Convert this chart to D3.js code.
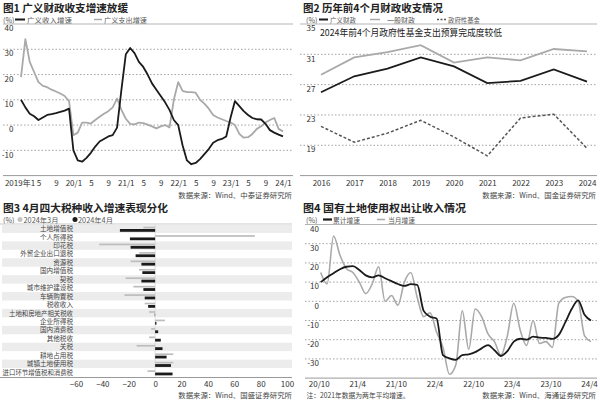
<!DOCTYPE html>
<html><head><meta charset="utf-8">
<script src="https://cdn.jsdelivr.net/npm/d3@7/dist/d3.min.js"></script>
<style>
html,body{margin:0;padding:0;background:#fff;}
svg{display:block;font-family:"Noto Sans CJK SC","Noto Sans",sans-serif;}
</style></head>
<body>
<svg id="c" width="600" height="400"></svg>
<script>
// ---------- DATA ----------
// Panel 1: monthly, 2019/1 .. 2024/1
const p1TickIdx = [0,4,8,12,16,20,24,28,32,36,40,44,48,52,56,60];
const p1TickLabels = ["2019年1","5","9","20/1","5","9","21/1","5","9","22/1","5","9","23/1","5","9","24/1"];
const p1Income = [10,7,4.5,3.5,2,3,4,4.3,4.7,5.2,5.7,6.5,-10,-14,-14.5,-13,-11,-8.5,-6.5,-5.5,-4.5,-4,-1,14,28,30.5,28.5,25,23,20,16.5,14,11.5,9,6,2,0,-8,-14,-15.5,-15,-13.5,-11.5,-9.5,-7,-6,-5.5,-4.5,3,9.5,7.5,5.5,4,2.8,2.3,2.2,0.5,-2,-3,-3.8,-4.5];
const p1Expend = [19,34,25,21,17,15.5,15,14,13.3,12.5,11.5,9.5,-4,-3,1,1,0.6,2,3.3,4.5,5.5,7,10.5,6,2.5,0.5,0.3,1,0.8,0.2,-0.5,-1.3,-0.5,0,-1,10,17,13.5,13,13,12.8,10,8.5,6.5,4,3,2.3,1.6,1,0,-3.5,-5,-4.8,-3.5,-1.5,-0.5,1,2,2.8,-1.5,-2.5];
const p1YTicks = [40,30,20,10,0,-10];

// Panel 2: yearly
const p2Years = ["2016","2017","2018","2019","2020","2021","2022","2023","2024"];
const p2Broad = [26.0,28.1,29.1,30.6,29.4,27.2,27.5,29.0,27.4];
const p2General = [28.3,30.6,31.3,32.2,29.9,30.6,30.2,31.7,31.4];
const p2Fund = [21.5,19.4,20.6,22.3,20.1,17.6,22.6,23.1,18.6];
const p2YTicks = [35,31,27,23,19];

// Panel 3: tax categories
const p3Cats = ["土地增值税","个人所得税","印花税","外贸企业出口退税","资源税","国内增值税","契税","城市维护建设税","车辆购置税","税收收入","土地和房地产相关税收","企业所得税","国内消费税","其他税收","关税","耕地占用税","城镇土地使用税","进口环节增值税和消费税"];
const p3Mar = [-8.9,75.6,-42.4,-12,-18.6,-12.2,-22.4,-16.5,-23.2,-7.9,-4.6,7.4,-3,-4.6,-14,13.7,13.7,-5.8];
const p3Apr = [-26.7,-19.1,-18.6,-14.8,-10.4,-9.7,-10.4,-8.9,-7.9,-5.3,-0.3,1,2.3,4.3,5.6,8.7,12,13.2];
const p3XTicks = [-60,-40,-20,0,20,40,60,80,100];

// Panel 4: monthly, 20/10 .. 24/4
const p4TickIdx = [0,6,12,18,24,30,36,42];
const p4TickLabels = ["20/10","21/4","21/10","22/4","22/10","23/4","23/10","24/4"];
const p4Cum = [10,12.5,14.6,16.7,18,18.3,16.3,13.5,12.5,13.5,12,10.5,9,8,8.9,8.5,-5,-8,-9,-28,-29.7,-30.5,-28,-27.6,-26.5,-24.5,-22.8,-25.5,-28.5,-26,-21,-19.5,-20,-18.4,-18.9,-19.1,-19.6,-17.5,-11,-4,0.5,-7,-10];
const p4Month = [15,9,34,24,17,15,10,4,9,18,0,3,-2,10,15,2,-8,-6,-16,-24,-38,-33,-5,-25,-4,-8,-17,-21,-28,-18,-1,-15,-23,-10,-22,-21,-24,-1,2,2.5,0,-18,-21];
const p4YTicks = [40,30,20,10,0,-10,-20,-30];

// ---------- DRAW ----------
const svg = d3.select("#c");
const BLACK = "#1b1b1b", GRAY = "#a9a9a9", GRID = "#8a8a8a", TXT = "#333";
const TICK = 8, LEG = 7.2, SRC = 7.4, TITLE = 10.5;

function text(g, x, y, s, opt = {}) {
  const t = g.append("text").attr("x", x).attr("y", y).text(s)
    .attr("font-size", opt.size || TICK)
    .attr("fill", opt.fill || TXT)
    .attr("font-weight", opt.weight || 400)
    .attr("text-anchor", opt.anchor || "start");
  if (opt.len) t.attr("textLength", opt.len).attr("lengthAdjust", "spacingAndGlyphs");
  return t;
}
function hline(g, x1, x2, y, dotted, color) {
  g.append("line").attr("x1", x1).attr("x2", x2).attr("y1", y).attr("y2", y)
    .attr("stroke", color || (dotted ? GRID : "#b5b5b5"))
    .attr("stroke-width", dotted ? 0.8 : 1)
    .attr("stroke-dasharray", dotted ? "1.5,2" : null);
}
function legendLine(g, x, y, w, color, width, dash) {
  g.append("line").attr("x1", x).attr("x2", x + w).attr("y1", y).attr("y2", y)
    .attr("stroke", color).attr("stroke-width", width).attr("stroke-dasharray", dash || null);
}
function styleAxis(axg) {
  axg.select(".domain").remove();
  axg.selectAll("text").attr("font-size", TICK).attr("fill", TXT)
    .attr("font-family", "Noto Sans CJK SC").attr("dy", "0.9em");
  return axg;
}

// ===== Panel 1 =====
{
  const g = svg.append("g");
  const x = d3.scaleLinear().domain([0, 60]).range([21, 283]);
  const y = d3.scaleLinear().domain([-20, 40]).range([175.6, 24]);
  text(g, 3, 12, "图1 广义财政收支增速放缓", {size: TITLE, weight: 700, fill: "#222", len: 125});
  text(g, 3, 22.5, "(%)", {size: LEG, fill: "#555"});
  legendLine(g, 15, 19.5, 10, BLACK, 2);
  text(g, 27, 22.5, "广义收入增速", {size: LEG, fill: "#555", len: 45});
  legendLine(g, 94, 19.5, 8, GRAY, 1.5);
  text(g, 104, 22.5, "广义支出增速", {size: LEG, fill: "#555", len: 43});
  p1YTicks.forEach(v => {
    hline(g, 3, 293, y(v), v !== 40);
    text(g, 13.5, y(v) + 7.2, v, {anchor: "end"});
  });
  hline(g, 3, 293, y(-20), false, "#999");
  const ax = d3.axisBottom(x).tickValues(p1TickIdx).tickSize(0)
    .tickFormat((d, i) => p1TickLabels[i]);
  const axg = styleAxis(g.append("g").attr("transform", `translate(0,${y(-20)})`).call(ax));
  axg.selectAll("text").filter((d, i) => i === 0).attr("dx", -1.5);
  const line = d3.line().x((d, i) => x(i)).y(d => y(d));
  g.append("path").datum(p1Expend).attr("d", line).attr("fill", "none")
    .attr("stroke", GRAY).attr("stroke-width", 1.8).attr("stroke-linejoin", "round");
  g.append("path").datum(p1Income).attr("d", line).attr("fill", "none")
    .attr("stroke", BLACK).attr("stroke-width", 1.8).attr("stroke-linejoin", "round");
  text(g, 292, 197.5, "数据来源：Wind、中泰证券研究所", {size: SRC, anchor: "end", fill: "#444"});
}

// ===== Panel 2 =====
{
  const g = svg.append("g");
  const x = d3.scalePoint().domain(p2Years).range([321, 587]);
  const y = d3.scaleLinear().domain([15, 35]).range([175.6, 24]);
  text(g, 303, 12, "图2 历年前4个月财政收支情况", {size: TITLE, weight: 700, fill: "#222", len: 140});
  text(g, 306, 22.5, "(%)", {size: LEG, fill: "#555"});
  legendLine(g, 319, 19.5, 9, BLACK, 2);
  text(g, 330, 22.5, "广义财政", {size: LEG, fill: "#555", len: 26});
  legendLine(g, 370, 19.5, 10, GRAY, 1.5);
  text(g, 387, 22.5, "一般财政", {size: LEG, fill: "#555", len: 28});
  legendLine(g, 437, 19.5, 10, "#555", 1.5, "2,1.5");
  text(g, 448, 22.5, "政府性基金", {size: LEG, fill: "#555", len: 32});
  p2YTicks.forEach(v => {
    hline(g, 300, 597, y(v), v !== 35);
    text(g, 315.5, y(v) + 7.2, v, {anchor: "end"});
  });
  hline(g, 300, 597, y(15), false, "#999");
  text(g, 320, 36, "2024年前4个月政府性基金支出预算完成度较低", {size: 9.5, fill: "#222", len: 182});
  const ax = d3.axisBottom(x).tickSize(0);
  styleAxis(g.append("g").attr("transform", `translate(0,${y(15)})`).call(ax));
  const mk = arr => d3.line().x((d, i) => x(p2Years[i])).y(d => y(d))(arr);
  g.append("path").attr("d", mk(p2Fund)).attr("fill", "none").attr("stroke", "#555")
    .attr("stroke-width", 1.5).attr("stroke-dasharray", "3,2");
  g.append("path").attr("d", mk(p2General)).attr("fill", "none").attr("stroke", GRAY).attr("stroke-width", 1.8);
  g.append("path").attr("d", mk(p2Broad)).attr("fill", "none").attr("stroke", BLACK).attr("stroke-width", 1.8);
  text(g, 596, 197.5, "数据来源：Wind、国金证券研究所", {size: SRC, anchor: "end", fill: "#444"});
}

// ===== Panel 3 =====
{
  const g = svg.append("g");
  const x = d3.scaleLinear().domain([-60, 100]).range([76, 287]);
  const yb = d3.scaleBand().domain(p3Cats).range([224.5, 376.5]).padding(0);
  text(g, 3, 212, "图3 4月四大税种收入增速表现分化", {size: TITLE, weight: 700, fill: "#222", len: 165});
  text(g, 3, 222.5, "(%)", {size: LEG, fill: "#555"});
  g.append("circle").attr("cx", 20).attr("cy", 219.5).attr("r", 2.5).attr("fill", "#c4c4c4");
  text(g, 23.5, 222.5, "2024年3月", {size: LEG, fill: "#555", len: 35});
  g.append("circle").attr("cx", 75).attr("cy", 219.5).attr("r", 2.5).attr("fill", BLACK);
  text(g, 78, 222.5, "2024年4月", {size: LEG, fill: "#555", len: 35});
  hline(g, 0, 292, 224, false, "#c8c8c8");
  p3Cats.forEach((c, i) => {
    if (i % 2 === 0) g.append("rect").attr("x", 2).attr("y", yb(c)).attr("width", 290)
      .attr("height", yb.bandwidth()).attr("fill", "#ececec");
    const o = {size: 6.6, anchor: "end", fill: "#444"};
    if (c.length >= 10) o.len = c.length * 6.4;
    text(g, 73, yb(c) + yb.bandwidth() / 2 + 2.4, c, o);
  });
  g.append("line").attr("x1", x(0)).attr("x2", x(0)).attr("y1", 224.5).attr("y2", 376.5)
    .attr("stroke", "#cfcfcf").attr("stroke-width", 0.6);
  g.selectAll(".mar").data(p3Mar).enter().append("rect")
    .attr("x", d => Math.min(x(0), x(d))).attr("width", d => Math.abs(x(d) - x(0)))
    .attr("y", (d, i) => yb(p3Cats[i]) + 2.2).attr("height", 1.7).attr("fill", "#bdbdbd");
  g.selectAll(".apr").data(p3Apr).enter().append("rect")
    .attr("x", d => Math.min(x(0), x(d))).attr("width", d => Math.abs(x(d) - x(0)))
    .attr("y", (d, i) => yb(p3Cats[i]) + 4.5).attr("height", 2.8).attr("fill", BLACK);
  hline(g, 0, 292, 377.5, false, "#999");
  const ax = d3.axisBottom(x).tickValues(p3XTicks).tickSize(0);
  styleAxis(g.append("g").attr("transform", `translate(0,376.5)`).call(ax));
  text(g, 292, 397.5, "数据来源：Wind、国盛证券研究所", {size: SRC, anchor: "end", fill: "#444"});
}

// ===== Panel 4 =====
{
  const g = svg.append("g");
  const x = d3.scaleLinear().domain([0, 42]).range([320.7, 591]);
  const y = d3.scaleLinear().domain([-40, 40]).range([378.1, 224.5]);
  text(g, 303, 212, "图4 国有土地使用权出让收入情况", {size: TITLE, weight: 700, fill: "#222", len: 163});
  text(g, 306, 222.5, "(%)", {size: LEG, fill: "#555"});
  legendLine(g, 323, 219.5, 9, BLACK, 2.2);
  text(g, 333, 222.5, "累计增速", {size: LEG, fill: "#555", len: 27});
  legendLine(g, 377, 219.5, 8, GRAY, 1.5);
  text(g, 388, 222.5, "当月增速", {size: LEG, fill: "#555", len: 27});
  p4YTicks.forEach(v => {
    hline(g, 305, 597, y(v), v !== 40);
    text(g, 319, y(v) + 7.2, v, {anchor: "end"});
  });
  hline(g, 305, 597, y(-40), false, "#999");
  const ax = d3.axisBottom(x).tickValues(p4TickIdx).tickSize(0)
    .tickFormat((d, i) => p4TickLabels[i]);
  styleAxis(g.append("g").attr("transform", `translate(-2,${y(-40) - 1.5})`).call(ax));
  const line = d3.line().x((d, i) => x(i)).y(d => y(d)).curve(d3.curveMonotoneX);
  g.append("path").datum(p4Month).attr("d", line).attr("fill", "none")
    .attr("stroke", GRAY).attr("stroke-width", 1.6);
  g.append("path").datum(p4Cum).attr("d", line).attr("fill", "none")
    .attr("stroke", BLACK).attr("stroke-width", 1.8);
  text(g, 306.5, 397.5, "注：2021年数据为两年平均增速。", {size: SRC, fill: "#444", len: 103});
  text(g, 596, 397.5, "数据来源：Wind、海通证券研究所", {size: SRC, anchor: "end", fill: "#444"});
}
</script>
</body></html>
